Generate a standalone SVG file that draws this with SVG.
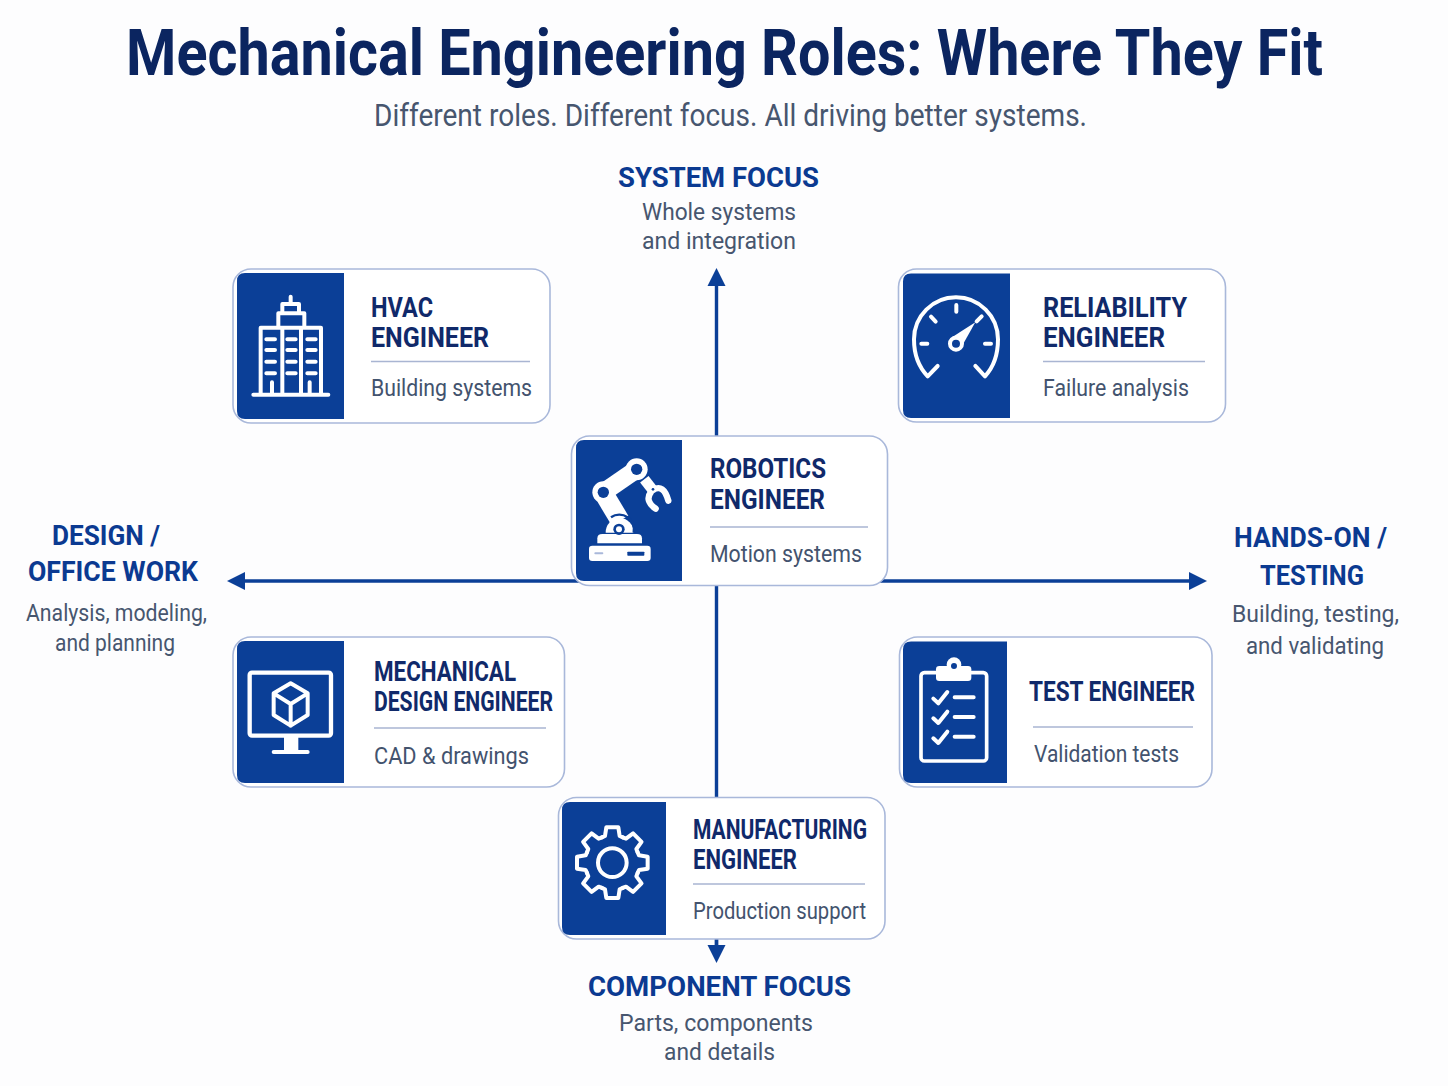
<svg xmlns="http://www.w3.org/2000/svg" xmlns:xlink="http://www.w3.org/1999/xlink" width="1448" height="1086" viewBox="0 0 1448 1086">
<style>
text{font-family:Roboto,"Liberation Sans",sans-serif}
.title{font-size:65px;font-weight:700;fill:#0b2560}
.subtitle{font-size:32px;fill:#47566f}
.axis{font-size:28px;font-weight:700;fill:#0b3a91}
.axisnote{font-size:24px;fill:#47566f}
.role{font-size:27px;font-weight:700;fill:#10296a}
.desc{font-size:24px;fill:#43536e}
.card{fill:#fff;stroke:#a9b8da;stroke-width:1.6}
.tile{fill:#0b3f97}
.rule{stroke:#a9b5d2;stroke-width:1.6}
.conn{stroke:#0b3f97;stroke-width:3.4;fill:none}
.ic{fill:none;stroke:#fff;stroke-width:12;stroke-linecap:round;stroke-linejoin:round}
.wf{fill:#fff}
.bf{fill:#0b3f97}
</style>
<defs>
<marker id="ah" viewBox="0 0 18 20" refX="2" refY="10" markerWidth="18" markerHeight="20" markerUnits="userSpaceOnUse" orient="auto"><path d="M0,1 L18,10 L0,19 Z" fill="#0b3f97"/></marker>
<path id="tooth" d="M-31.4,-75.8 L-22,-80 L-18,-106 L18,-106 L22,-80 L31.4,-75.8"/>
</defs>
<rect width="1448" height="1086" fill="#fdfdfe"/>
<g id="heading">
<text class="title" x="126" y="75" textLength="1197" lengthAdjust="spacingAndGlyphs">Mechanical Engineering Roles: Where They Fit</text>
<text class="subtitle" x="374" y="126" textLength="713" lengthAdjust="spacingAndGlyphs">Different roles. Different focus. All driving better systems.</text>
</g>
<g id="connectors">
<path class="conn" d="M716.5,950 L716.5,284" marker-end="url(#ah)"/>
<path class="conn" d="M716.5,930 L716.5,947" marker-end="url(#ah)"/>
<path class="conn" d="M716,581 L243,581" marker-end="url(#ah)"/>
<path class="conn" d="M716,581 L1191,581" marker-end="url(#ah)"/>
</g>
<g id="axis-top">
<text class="axis" x="618" y="187" textLength="201" lengthAdjust="spacingAndGlyphs">SYSTEM FOCUS</text>
<text class="axisnote" x="642" y="220" textLength="154" lengthAdjust="spacingAndGlyphs">Whole systems</text>
<text class="axisnote" x="642" y="249" textLength="154" lengthAdjust="spacingAndGlyphs">and integration</text>
</g>
<g id="axis-left">
<text class="axis" x="52" y="545" textLength="108" lengthAdjust="spacingAndGlyphs">DESIGN /</text>
<text class="axis" x="28" y="581" textLength="170" lengthAdjust="spacingAndGlyphs">OFFICE WORK</text>
<text class="axisnote" x="26" y="621" textLength="181" lengthAdjust="spacingAndGlyphs">Analysis, modeling,</text>
<text class="axisnote" x="55" y="651" textLength="120" lengthAdjust="spacingAndGlyphs">and planning</text>
</g>
<g id="axis-right">
<text class="axis" x="1234" y="547" textLength="153" lengthAdjust="spacingAndGlyphs">HANDS-ON /</text>
<text class="axis" x="1260" y="585" textLength="104" lengthAdjust="spacingAndGlyphs">TESTING</text>
<text class="axisnote" x="1232" y="622" textLength="167" lengthAdjust="spacingAndGlyphs">Building, testing,</text>
<text class="axisnote" x="1246" y="654" textLength="138" lengthAdjust="spacingAndGlyphs">and validating</text>
</g>
<g id="axis-bottom">
<text class="axis" x="588" y="996" textLength="263" lengthAdjust="spacingAndGlyphs">COMPONENT FOCUS</text>
<text class="axisnote" x="619" y="1031" textLength="194" lengthAdjust="spacingAndGlyphs">Parts, components</text>
<text class="axisnote" x="664" y="1060" textLength="111" lengthAdjust="spacingAndGlyphs">and details</text>
</g>

<g id="node-hvac">
<rect class="card" x="233" y="269" width="317" height="154" rx="18"/>
<path class="tile" d="M245,273 H344 V419 H245 Q237,419 237,411 V281 Q237,273 245,273 Z"/>
<g transform="translate(225,260) scale(.3333)">
<path class="ic" d="M85,404 H310 M107,400 V203 H288 V400 M172,203 V400 M228,203 V400 M160,200 V160 H238 V200 M172,158 V132 H222 V158 M197,110 V130 M141,400 V367 M254,400 V367 M124,238 H150 M187,238 H212 M247,238 H272 M124,270 H150 M187,270 H212 M247,270 H272 M124,305 H150 M187,305 H212 M247,305 H272 M124,340 H150 M187,340 H212 M247,340 H272"/>
</g>
<text class="role" x="371" y="317" textLength="62" lengthAdjust="spacingAndGlyphs">HVAC</text>
<text class="role" x="371" y="347" textLength="118" lengthAdjust="spacingAndGlyphs">ENGINEER</text>
<line class="rule" x1="371" y1="361.5" x2="530" y2="361.5"/>
<text class="desc" x="371" y="396" textLength="161" lengthAdjust="spacingAndGlyphs">Building systems</text>
</g>

<g id="node-reliability">
<rect class="card" x="898.500" y="269" width="327" height="153" rx="18"/>
<path class="tile" d="M911,273.500 H1010 V418 H911 Q903,418 903,410 V281.500 Q903,273.500 911,273.500 Z"/>
<g transform="translate(890,260) scale(.3333)">
<path class="ic" d="M113,349 C85,320 72,280 72,238 A126,126 0 0 1 324,238 C324,280 312,320 285,349 M113,349 L143,318 M285,349 L256,318 M199,135 V155 M123,170 L137,185 M94,251 H112 M285,251 H303 M275,169 L260,184"/>
<path class="wf" d="M256,187 L186,232 L216,258 Z"/>
<circle class="bf" cx="198" cy="251" r="18" stroke="#fff" stroke-width="12"/>
</g>
<text class="role" x="1043" y="317" textLength="144" lengthAdjust="spacingAndGlyphs">RELIABILITY</text>
<text class="role" x="1043" y="347" textLength="122" lengthAdjust="spacingAndGlyphs">ENGINEER</text>
<line class="rule" x1="1043" y1="361.500" x2="1205" y2="361.500"/>
<text class="desc" x="1043" y="396" textLength="146" lengthAdjust="spacingAndGlyphs">Failure analysis</text>
</g>

<g id="node-robotics">
<rect class="card" x="571.500" y="436" width="316" height="149.500" rx="18"/>
<path class="tile" d="M584,440 H682 V581 H584 Q576,581 576,573 V448 Q576,440 584,440 Z"/>
<g transform="translate(565,430) scale(.3333)">
<path class="wf" d="M97,340 V325 Q97,312 112,312 H216 Q231,312 231,325 V340 Z"/>
<rect class="wf" x="72" y="347" width="185" height="46" rx="10"/>
<rect class="bf" x="187" y="365" width="51" height="12" rx="2"/>
<rect x="88" y="367" width="27" height="6" rx="3" fill="#a9b8da"/>
<path d="M122,308 A42,44 0 0 1 206,308 Z" class="wf"/>
<path d="M122,200 L165,272" stroke="#fff" stroke-width="58" fill="none"/>
<path d="M138,262 A44,44 0 0 1 206,308" stroke="#0b3f97" stroke-width="7" fill="none"/>
<circle cx="162" cy="298" r="17" class="bf"/><circle cx="162" cy="298" r="9" class="wf"/>
<path d="M115,187 L215,118" stroke="#fff" stroke-width="54" fill="none"/>
<circle cx="115" cy="187" r="33" class="wf"/><circle cx="115" cy="187" r="17" class="bf"/>
<circle cx="215" cy="118" r="33" class="wf"/><circle cx="215" cy="118" r="17" class="bf"/>
<path d="M238,148 L266,184" stroke="#fff" stroke-width="32" fill="none"/>
<path d="M264,180 Q296,160 310,212 M258,186 Q238,212 272,236" stroke="#fff" stroke-width="19" fill="none" stroke-linecap="round"/>
<circle cx="264" cy="178" r="4" class="bf"/>
</g>
<text class="role" x="710" y="478" textLength="116" lengthAdjust="spacingAndGlyphs">ROBOTICS</text>
<text class="role" x="710" y="509" textLength="115" lengthAdjust="spacingAndGlyphs">ENGINEER</text>
<line class="rule" x1="710" y1="527" x2="868" y2="527"/>
<text class="desc" x="710" y="562" textLength="152" lengthAdjust="spacingAndGlyphs">Motion systems</text>
</g>

<g id="node-mechanical-design">
<rect class="card" x="233" y="637" width="331.500" height="150" rx="18"/>
<path class="tile" d="M245,641 H344 V783 H245 Q237,783 237,775 V649 Q237,641 245,641 Z"/>
<g transform="translate(225,630) scale(.3333)">
<rect x="74" y="128" width="244" height="189" rx="7" fill="none" stroke="#fff" stroke-width="13"/>
<path class="wf" d="M177,320 H220 V362 H177 Z"/>
<path class="ic" d="M146,366 H248"/>
<path class="ic" d="M197,160 L248,190 V255 L197,287 L146,255 V190 Z M146,190 L197,222 L248,190 M197,222 V287"/>
</g>
<text class="role" x="374" y="681" textLength="142" lengthAdjust="spacingAndGlyphs">MECHANICAL</text>
<text class="role" x="374" y="711" textLength="179" lengthAdjust="spacingAndGlyphs">DESIGN ENGINEER</text>
<line class="rule" x1="374" y1="728" x2="546" y2="728"/>
<text class="desc" x="374" y="764" textLength="155" lengthAdjust="spacingAndGlyphs">CAD &amp; drawings</text>
</g>

<g id="node-test">
<rect class="card" x="899.500" y="637" width="312.500" height="150" rx="18"/>
<path class="tile" d="M911,641.500 H1007 V783 H911 Q903,783 903,775 V649.500 Q903,641.500 911,641.500 Z"/>
<g transform="translate(890,630) scale(.3333)">
<rect x="93" y="128" width="197" height="265" rx="10" fill="none" stroke="#fff" stroke-width="11"/>
<rect class="wf" x="138" y="108" width="106" height="45" rx="10"/>
<circle class="wf" cx="192" cy="104" r="22"/><circle class="bf" cx="192" cy="108" r="9"/>
<path class="ic" d="M130,206 L145,220 L172,186 M130,265 L145,279 L172,245 M130,325 L145,339 L172,305 M194,202 H251 M194,261 H251 M194,320 H251"/>
</g>
<text class="role" x="1029" y="701" textLength="166" lengthAdjust="spacingAndGlyphs">TEST ENGINEER</text>
<line class="rule" x1="1033" y1="727" x2="1193" y2="727"/>
<text class="desc" x="1034" y="762" textLength="145" lengthAdjust="spacingAndGlyphs">Validation tests</text>
</g>

<g id="node-manufacturing">
<rect class="card" x="558.500" y="797.500" width="326.500" height="141.500" rx="18"/>
<path class="tile" d="M570,802 H666 V935 H570 Q562,935 562,927 V810 Q562,802 570,802 Z"/>
<g transform="translate(550,790) scale(.3333)">
<g class="ic" transform="translate(187,218)">
<use xlink:href="#tooth"/>
<use xlink:href="#tooth" transform="rotate(45)"/>
<use xlink:href="#tooth" transform="rotate(90)"/>
<use xlink:href="#tooth" transform="rotate(135)"/>
<use xlink:href="#tooth" transform="rotate(180)"/>
<use xlink:href="#tooth" transform="rotate(225)"/>
<use xlink:href="#tooth" transform="rotate(270)"/>
<use xlink:href="#tooth" transform="rotate(315)"/>
<circle r="43"/>
</g>
</g>
<text class="role" x="693" y="839" textLength="174" lengthAdjust="spacingAndGlyphs">MANUFACTURING</text>
<text class="role" x="693" y="869" textLength="104" lengthAdjust="spacingAndGlyphs">ENGINEER</text>
<line class="rule" x1="693" y1="884" x2="865" y2="884"/>
<text class="desc" x="693" y="919" textLength="173" lengthAdjust="spacingAndGlyphs">Production support</text>
</g>
</svg>
